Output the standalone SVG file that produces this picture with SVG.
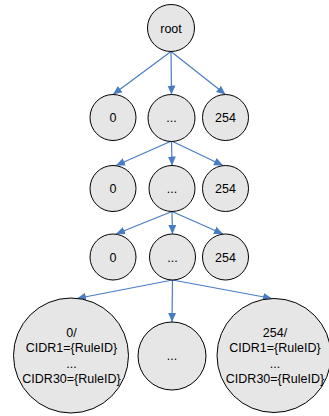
<svg xmlns="http://www.w3.org/2000/svg" width="329" height="416" viewBox="0 0 329 416">
<defs>
<marker id="ah" markerUnits="userSpaceOnUse" markerWidth="10" markerHeight="10" viewBox="0 0 10 10" refX="9" refY="5" orient="auto">
<path d="M0,1 L9,5 L0,9 Z" fill="#4a7cc4"/>
</marker>
<style>
.n{fill:#e6e6e6;stroke:#000;stroke-width:1}
.t{font-family:"Liberation Sans",Arial,sans-serif;font-size:12.5px;fill:#000;text-anchor:middle}
.e{stroke:#4a7cc4;stroke-width:1.2;fill:none;marker-end:url(#ah)}
</style>
</defs>
<rect width="329" height="416" fill="#fff"/>
<g id="connectors">
<line class="e" x1="171" y1="51.5" x2="113" y2="94.5"/>
<line class="e" x1="171" y1="51.5" x2="171.5" y2="94.5"/>
<line class="e" x1="171" y1="51.5" x2="225.5" y2="94.5"/>
<line class="e" x1="171.5" y1="141" x2="116" y2="165.5"/>
<line class="e" x1="171.5" y1="141" x2="172" y2="165.5"/>
<line class="e" x1="171.5" y1="141" x2="223" y2="165.5"/>
<line class="e" x1="172" y1="211.5" x2="116" y2="234"/>
<line class="e" x1="172" y1="211.5" x2="172.5" y2="234"/>
<line class="e" x1="172" y1="211.5" x2="223" y2="234"/>
<line class="e" x1="172.5" y1="280" x2="77" y2="298.5"/>
<line class="e" x1="172.5" y1="280" x2="172" y2="322"/>
<line class="e" x1="172.5" y1="280" x2="272" y2="298.5"/>
</g>
<g id="root"><circle class="n" cx="171" cy="28" r="23.5"/><text class="t" x="171" y="32.5">root</text></g>
<g id="l1-0"><circle class="n" cx="113" cy="117.5" r="23"/><text class="t" x="113" y="122">0</text></g>
<g id="l1-dots"><circle class="n" cx="171.5" cy="118" r="23.5"/><text class="t" x="171.5" y="122">...</text></g>
<g id="l1-254"><circle class="n" cx="225.5" cy="117.5" r="23"/><text class="t" x="225.5" y="122">254</text></g>
<g id="l2-0"><circle class="n" cx="113" cy="188.5" r="23"/><text class="t" x="113" y="193">0</text></g>
<g id="l2-dots"><circle class="n" cx="172" cy="188.5" r="23"/><text class="t" x="172" y="193">...</text></g>
<g id="l2-254"><circle class="n" cx="225.5" cy="188.5" r="23"/><text class="t" x="225.5" y="193">254</text></g>
<g id="l3-0"><circle class="n" cx="113" cy="257" r="23"/><text class="t" x="113" y="261.5">0</text></g>
<g id="l3-dots"><circle class="n" cx="172.5" cy="257" r="23"/><text class="t" x="172.5" y="261.5">...</text></g>
<g id="l3-254"><circle class="n" cx="225.5" cy="257" r="23"/><text class="t" x="225.5" y="261.5">254</text></g>
<g id="l4-0"><circle class="n" cx="71" cy="355.5" r="57.5"/>
<text class="t" x="71.5" y="336.7">0/</text>
<text class="t" x="71.5" y="352.2">CIDR1={RuleID}</text>
<text class="t" x="71.5" y="367.7">...</text>
<text class="t" x="71.5" y="383.2">CIDR30={RuleID}</text></g>
<g id="l4-dots"><circle class="n" cx="172" cy="356" r="34"/><text class="t" x="172" y="359.5">...</text></g>
<g id="l4-254"><circle class="n" cx="274" cy="355.5" r="57"/>
<text class="t" x="275" y="336.7">254/</text>
<text class="t" x="275" y="352.2">CIDR1={RuleID}</text>
<text class="t" x="275" y="367.7">...</text>
<text class="t" x="275" y="383.2">CIDR30={RuleID}</text></g>
</svg>
